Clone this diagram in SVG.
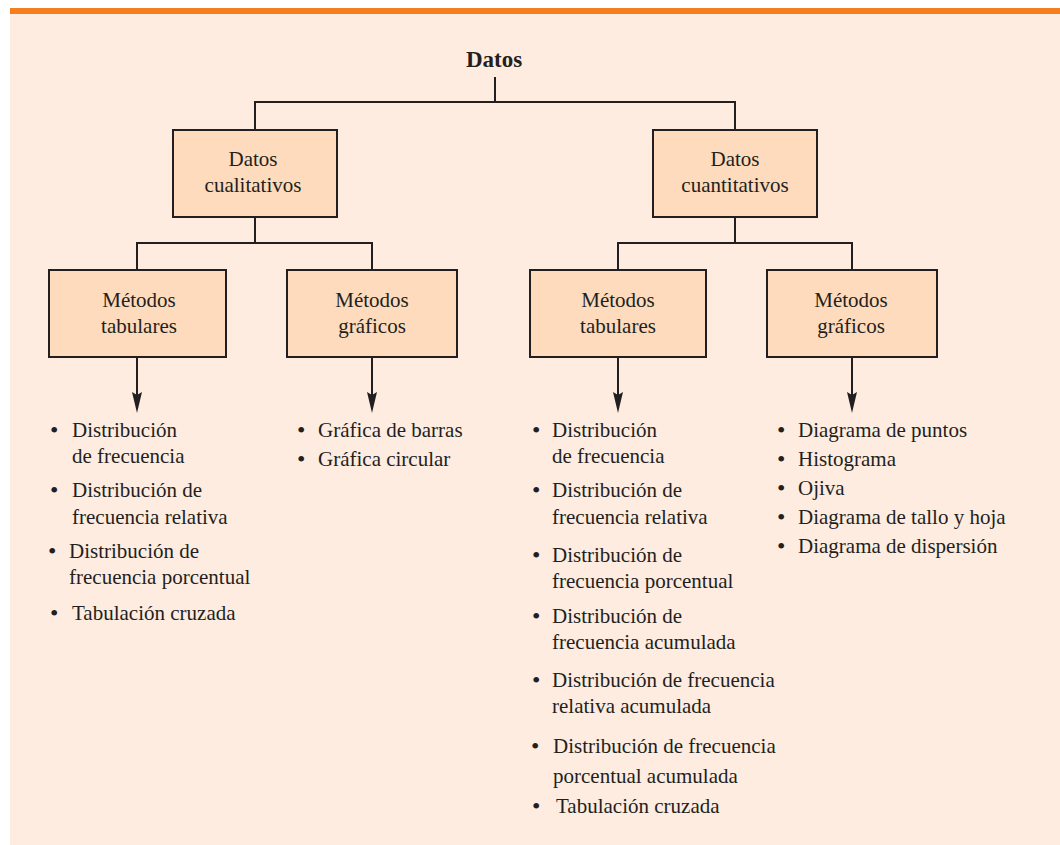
<svg xmlns="http://www.w3.org/2000/svg" width="1060" height="845" viewBox="0 0 1060 845">
<defs>
<style>
.box{fill:#FDDBBC;stroke:#231F20;stroke-width:2}
.ln{fill:none;stroke:#231F20;stroke-width:2}
.t{font-family:"Liberation Serif","Times New Roman",serif;font-size:21px;fill:#231F20}
.c{text-anchor:middle}
.b{font-weight:bold;font-size:23px}
.bu{font-size:24px}
</style>
</defs>
<rect x="10" y="8" width="1050" height="6" fill="#F47E20"/>
<rect x="10" y="14" width="1050" height="831" fill="#FEECE0"/>

<g id="connectors">
<path class="ln" d="M495,77 V102 M255,130 V102 H735 V130"/>
<path class="ln" d="M255,217 V243 M137,270 V243 H372 V270"/>
<path class="ln" d="M735,217 V243 M618,270 V243 H852 V270"/>
<path class="ln" d="M137,357 V395"/>
<path class="ln" d="M372,357 V395"/>
<path class="ln" d="M618,357 V395"/>
<path class="ln" d="M852,357 V395"/>
<path d="M132,392 L137,395 L142,392 L137,413 Z" fill="#231F20"/>
<path d="M367,392 L372,395 L377,392 L372,413 Z" fill="#231F20"/>
<path d="M613,392 L618,395 L623,392 L618,413 Z" fill="#231F20"/>
<path d="M847,392 L852,395 L857,392 L852,413 Z" fill="#231F20"/>
</g>

<g id="datos"><text class="t c b" x="494" y="67">Datos</text></g>

<g id="cualitativos">
<rect class="box" x="173" y="130" width="164" height="87"/>
<text class="t c" x="253" y="166">Datos</text>
<text class="t c" x="253" y="192">cualitativos</text>
</g>
<g id="cuantitativos">
<rect class="box" x="653" y="130" width="164" height="87"/>
<text class="t c" x="735" y="166">Datos</text>
<text class="t c" x="735" y="192">cuantitativos</text>
</g>
<g id="tab1">
<rect class="box" x="49" y="270" width="177" height="87"/>
<text class="t c" x="139" y="307">Métodos</text>
<text class="t c" x="139" y="333">tabulares</text>
</g>
<g id="graf1">
<rect class="box" x="287" y="270" width="170" height="87"/>
<text class="t c" x="372" y="307">Métodos</text>
<text class="t c" x="372" y="333">gráficos</text>
</g>
<g id="tab2">
<rect class="box" x="530" y="270" width="176" height="87"/>
<text class="t c" x="618" y="307">Métodos</text>
<text class="t c" x="618" y="333">tabulares</text>
</g>
<g id="graf2">
<rect class="box" x="767" y="270" width="170" height="87"/>
<text class="t c" x="851" y="307">Métodos</text>
<text class="t c" x="851" y="333">gráficos</text>
</g>

<g id="list1" class="t">
<text class="bu" x="50" y="438">•</text><text x="72" y="437">Distribución</text>
<text x="72" y="463">de frecuencia</text>
<text class="bu" x="50" y="498">•</text><text x="72" y="497">Distribución de</text>
<text x="72" y="524">frecuencia relativa</text>
<text class="bu" x="48" y="559">•</text><text x="69" y="558">Distribución de</text>
<text x="69" y="584">frecuencia porcentual</text>
<text class="bu" x="50" y="621">•</text><text x="72" y="620">Tabulación cruzada</text>
</g>

<g id="list2" class="t">
<text class="bu" x="297" y="438">•</text><text x="318" y="437">Gráfica de barras</text>
<text class="bu" x="297" y="467">•</text><text x="318" y="466">Gráfica circular</text>
</g>

<g id="list3" class="t">
<text class="bu" x="532" y="438">•</text><text x="552" y="437">Distribución</text>
<text x="552" y="463">de frecuencia</text>
<text class="bu" x="532" y="498">•</text><text x="552" y="497">Distribución de</text>
<text x="552" y="524">frecuencia relativa</text>
<text class="bu" x="532" y="563">•</text><text x="552" y="562">Distribución de</text>
<text x="552" y="588">frecuencia porcentual</text>
<text class="bu" x="532" y="624">•</text><text x="552" y="623">Distribución de</text>
<text x="552" y="649">frecuencia acumulada</text>
<text class="bu" x="532" y="688">•</text><text x="552" y="687">Distribución de frecuencia</text>
<text x="552" y="713">relativa acumulada</text>
<text class="bu" x="531" y="754">•</text><text x="553" y="753">Distribución de frecuencia</text>
<text x="553" y="783">porcentual acumulada</text>
<text class="bu" x="532" y="814">•</text><text x="556" y="813">Tabulación cruzada</text>
</g>

<g id="list4" class="t">
<text class="bu" x="777" y="438">•</text><text x="798" y="437">Diagrama de puntos</text>
<text class="bu" x="777" y="467">•</text><text x="798" y="466">Histograma</text>
<text class="bu" x="777" y="496">•</text><text x="798" y="495">Ojiva</text>
<text class="bu" x="777" y="525">•</text><text x="798" y="524">Diagrama de tallo y hoja</text>
<text class="bu" x="777" y="554">•</text><text x="798" y="553">Diagrama de dispersión</text>
</g>
</svg>
